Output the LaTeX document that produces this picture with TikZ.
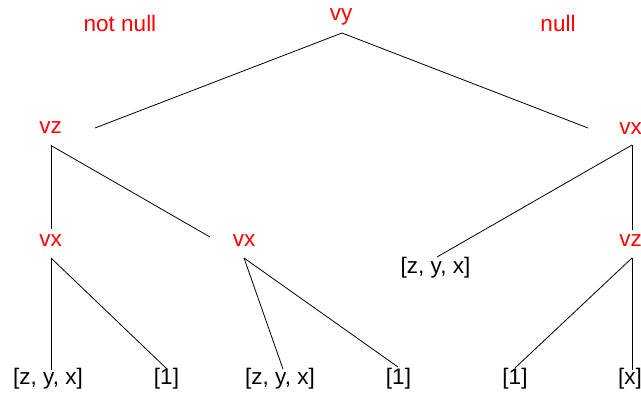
\documentclass[tikz,border=0pt]{standalone}
\usepackage{fontspec}
\setmainfont{Liberation Sans}
\usepackage{tikz}
\usetikzlibrary{positioning}

\begin{document}
\begin{tikzpicture}[
      x=1pt, y=-1pt,
      var/.style={text=red, font=\fontsize{22.5}{26}\selectfont, anchor=base, inner sep=0pt},
      leaf/.style={font=\fontsize{22.5}{26}\selectfont, anchor=base, inner sep=0pt},
      br/.style={line width=0.8pt}
    ]
    \useasboundingbox (0,0) rectangle (641,398);
    \node[var] (notnull) at (120,32) {not null};
    \node[var] (isnull) at (558,32) {null};
    \node[var] (vy) at (341,21) {vy};
    \node[var] (vzl) at (50.5,134) {vz};
    \node[var] (vxr) at (630.5,135) {vx};
    \node[var] (vxl) at (50.5,247) {vx};
    \node[var] (vxm) at (244,247) {vx};
    \node[var] (vzr) at (630.5,247) {vz};
    \node[leaf] (zyxr) at (435.5,274) {[z, y, x]};
    \node[leaf] (zyxl) at (48,385) {[z, y, x]};
    \node[leaf] (onel) at (166.5,385) {[1]};
    \node[leaf] (zyxm) at (280,385) {[z, y, x]};
    \node[leaf] (onem) at (398.5,385) {[1]};
    \node[leaf] (oner) at (515,385) {[1]};
    \node[leaf] (xr) at (630,385) {[x]};
    \coordinate (vy-b) at (342,33);
    \coordinate (vzl-t) at (95,128);
    \coordinate (vxr-t) at (588,128);
    \coordinate (vzl-b) at (51,145.5);
    \coordinate (vxl-t) at (51,229);
    \coordinate (vxm-t) at (210,237);
    \coordinate (vxl-b) at (51,258);
    \coordinate (zyxl-t) at (51,370);
    \coordinate (onel-t) at (167,369);
    \coordinate (vxm-b) at (244,258);
    \coordinate (zyxm-t) at (283,369);
    \coordinate (onem-t) at (398,367);
    \coordinate (vxr-b) at (632,145);
    \coordinate (zyxr-t) at (437,257);
    \coordinate (vzr-t) at (632,230);
    \coordinate (vzr-b) at (632,258);
    \coordinate (oner-t) at (515,368);
    \coordinate (xr-t) at (632,370);
    \draw[br] (vy-b) -- (vzl-t);
    \draw[br] (vy-b) -- (vxr-t);
    \draw[br] (vzl-b) -- (vxl-t);
    \draw[br] (vzl-b) -- (vxm-t);
    \draw[br] (vxl-b) -- (zyxl-t);
    \draw[br] (vxl-b) -- (onel-t);
    \draw[br] (vxm-b) -- (zyxm-t);
    \draw[br] (vxm-b) -- (onem-t);
    \draw[br] (vxr-b) -- (zyxr-t);
    \draw[br] (vxr-b) -- (vzr-t);
    \draw[br] (vzr-b) -- (oner-t);
    \draw[br] (vzr-b) -- (xr-t);
  \end{tikzpicture}
\end{document}
